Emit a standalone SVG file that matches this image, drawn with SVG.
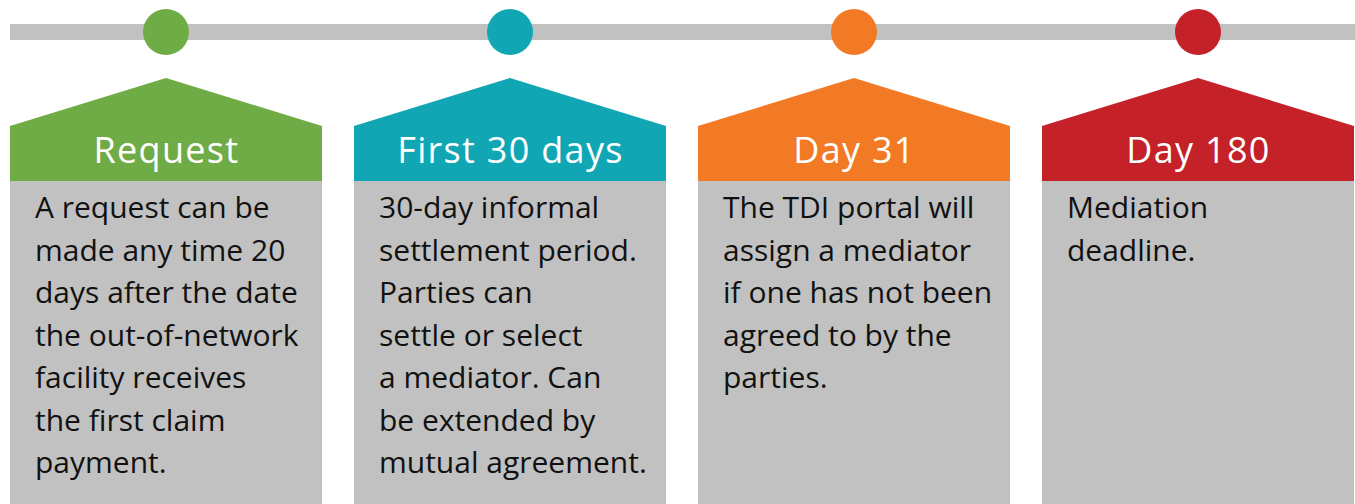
<svg xmlns="http://www.w3.org/2000/svg" width="1355" height="504" viewBox="0 0 1355 504">
<style>
.bar{fill:#c1c1c1}
.body{fill:#c1c1c1}
.hd{font-family:"Open Sans","Lato",sans-serif;font-size:36px;font-weight:500;fill:#ffffff;text-anchor:middle;letter-spacing:1.3px}
.tx{font-family:"Open Sans","Noto Sans",sans-serif;font-size:30px;fill:#111111}
</style>
<rect class="bar" x="10" y="24" width="1345" height="16"/>
<g id="node-request">
<circle cx="166" cy="32" r="23" fill="#70ac45"/>
<rect class="body" x="10" y="180" width="312" height="324"/>
<path d="M10 126 L166 78 L322 126 L322 181 L10 181 Z" fill="#70ac45"/>
<text class="hd" x="166.5" y="163">Request</text>
<text class="tx"><tspan x="35" y="218">A request can be</tspan><tspan x="35" y="260.5">made any time 20</tspan><tspan x="35" y="303">days after the date</tspan><tspan x="35" y="345.5">the out-of-network</tspan><tspan x="35" y="388">facility receives</tspan><tspan x="35" y="430.5">the first claim</tspan><tspan x="35" y="473">payment.</tspan></text>
</g>
<g id="node-first30">
<circle cx="510" cy="32" r="23" fill="#10a6b4"/>
<rect class="body" x="354" y="180" width="312" height="324"/>
<path d="M354 126 L510 78 L666 126 L666 181 L354 181 Z" fill="#10a6b4"/>
<text class="hd" x="510.5" y="163">First 30 days</text>
<text class="tx"><tspan x="379" y="218">30-day informal</tspan><tspan x="379" y="260.5">settlement period.</tspan><tspan x="379" y="303">Parties can</tspan><tspan x="379" y="345.5">settle or select</tspan><tspan x="379" y="388">a mediator. Can</tspan><tspan x="379" y="430.5">be extended by</tspan><tspan x="379" y="473">mutual agreement.</tspan></text>
</g>
<g id="node-day31">
<circle cx="854" cy="32" r="23" fill="#f27a24"/>
<rect class="body" x="698" y="180" width="312" height="324"/>
<path d="M698 126 L854 78 L1010 126 L1010 181 L698 181 Z" fill="#f27a24"/>
<text class="hd" x="854.5" y="163">Day 31</text>
<text class="tx"><tspan x="723" y="218">The TDI portal will</tspan><tspan x="723" y="260.5">assign a mediator</tspan><tspan x="723" y="303">if one has not been</tspan><tspan x="723" y="345.5">agreed to by the</tspan><tspan x="723" y="388">parties.</tspan></text>
</g>
<g id="node-day180">
<circle cx="1198" cy="32" r="23" fill="#c42128"/>
<rect class="body" x="1042" y="180" width="312" height="324"/>
<path d="M1042 126 L1198 78 L1354 126 L1354 181 L1042 181 Z" fill="#c42128"/>
<text class="hd" x="1198.5" y="163">Day 180</text>
<text class="tx"><tspan x="1067" y="218">Mediation</tspan><tspan x="1067" y="260.5">deadline.</tspan></text>
</g>
<g id="connectors"></g>
</svg>
